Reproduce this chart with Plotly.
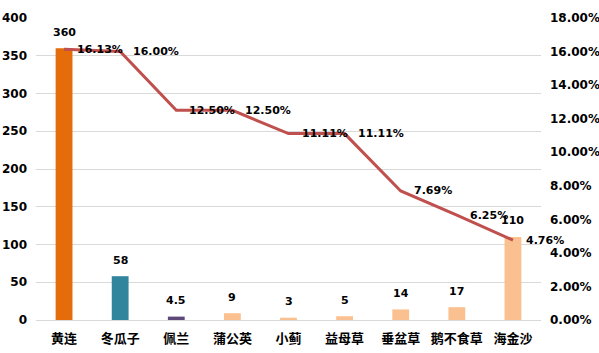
import plotly.graph_objects as go

categories = ["黄连", "冬瓜子", "佩兰", "蒲公英", "小蓟", "益母草", "垂盆草", "鹅不食草", "海金沙"]
amounts = [360, 58, 4.5, 9, 3, 5, 14, 17, 110]
amount_labels = ["360", "58", "4.5", "9", "3", "5", "14", "17", "110"]
ratios = [0.1613, 0.16, 0.125, 0.125, 0.1111, 0.1111, 0.0769, 0.0625, 0.0476]
bar_colors = ["#E46C0A", "#31859C", "#5F497A", "#FAC090", "#FAC090",
              "#FAC090", "#FAC090", "#FAC090", "#FAC090"]

num_font = dict(family="DejaVu Sans", size=11, color="#000000")
tick_font = dict(family="DejaVu Sans", size=12, color="#000000")
cjk_font = dict(family="Noto Sans CJK SC", size=13, color="#000000")

fig = go.Figure()
fig.add_trace(go.Bar(
    x=categories, y=amounts, marker=dict(color=bar_colors, line=dict(width=0)),
    yaxis="y", showlegend=False, hoverinfo="skip",
))
fig.add_trace(go.Scatter(
    x=categories, y=ratios, mode="lines", yaxis="y2",
    line=dict(color="#C0504D", width=3), showlegend=False, hoverinfo="skip",
))

for c, v, t in zip(categories, amounts, amount_labels):
    fig.add_annotation(
        x=c, y=v, xref="x", yref="y", text=f"<b>{t}</b>",
        showarrow=False, xanchor="center", yanchor="middle", yshift=16,
        font=num_font,
    )

for c, r in zip(categories, ratios):
    fig.add_annotation(
        x=c, y=r, xref="x", yref="y2", text=f"<b>{r*100:.2f}%</b>",
        showarrow=False, xanchor="left", yanchor="middle", xshift=11,
        font=num_font,
    )

fig.update_layout(
    width=599, height=353, margin=dict(l=36, r=58, t=18, b=33),
    paper_bgcolor="white", plot_bgcolor="white", bargap=0.7,
    xaxis=dict(
        range=[-0.5, len(categories) - 0.5],
        tickfont=cjk_font, showgrid=False, showline=True, linecolor="#D9D9D9",
        linewidth=1, ticks="", tickprefix="<b>", ticksuffix="</b>",
        ticklabelstandoff=6, automargin=False,
    ),
    yaxis=dict(
        range=[0, 400], dtick=50, showgrid=True, gridcolor="#D9D9D9",
        gridwidth=1, zeroline=False, tickfont=tick_font,
        tickprefix="<b>", ticksuffix="</b>", ticks="", ticklabelstandoff=8,
        automargin=False,
    ),
    yaxis2=dict(
        range=[0, 0.18], dtick=0.02, overlaying="y", side="right",
        showgrid=False, zeroline=False, tickformat=".2%", tickfont=tick_font,
        tickprefix="<b>", ticksuffix="</b>", ticks="", ticklabelstandoff=8,
        automargin=False,
    ),
)

fig.write_html("out.html")
